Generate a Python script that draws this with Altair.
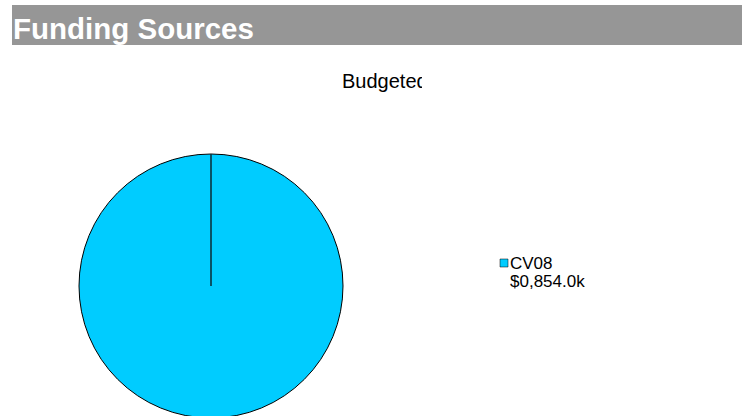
import altair as alt
import pandas as pd

header_title = "Funding Sources"
chart_title = "Budgeted"
sources = ["CV08"]
budget_k = [854.0]
labels = ["$0,854.0k"]
colors = ["#00CCFF"]

df = pd.DataFrame({"source": sources, "budget": budget_k, "label": labels})

W, H = 742, 416
FONT = "Liberation Sans"
CX, CY, R = 211, 286, 132

base = alt.Chart(df)

header_bg = base.mark_rect(color="#969696").encode(
    x=alt.value(12), x2=alt.value(742), y=alt.value(5), y2=alt.value(45)
)
header_txt = alt.Chart(pd.DataFrame({"t": [header_title]})).mark_text(
    font=FONT, fontSize=29.5, fontWeight="bold", color="white", align="left", baseline="alphabetic"
).encode(x=alt.value(13), y=alt.value(39), text="t:N")

title_txt = alt.Chart(pd.DataFrame({"t": [chart_title]})).mark_text(
    font=FONT, fontSize=20, color="black", align="left", baseline="alphabetic"
).encode(x=alt.value(342), y=alt.value(88), text="t:N")
# the reference clips the title at the right edge of its box
title_clip = alt.Chart(pd.DataFrame({"t": [0]})).mark_rect(color="white").encode(
    x=alt.value(422), x2=alt.value(440), y=alt.value(68), y2=alt.value(96)
)

color_scale = alt.Scale(domain=sources, range=colors)

pie = base.mark_arc(stroke="#000000", strokeWidth=1, radius=R).encode(
    theta=alt.Theta("budget:Q", stack=True),
    color=alt.Color("source:N", scale=color_scale, legend=None),
    x=alt.value(CX), y=alt.value(CY),
)
# radial edge of the single slice (start angle at 12 o'clock)
edge = base.mark_rule(color="#0b3440", strokeWidth=1.6).encode(
    x=alt.value(CX), y=alt.value(CY - R), y2=alt.value(CY)
)

leg_sym = base.mark_square(size=64, stroke="#000000", strokeWidth=0.5, opacity=1).encode(
    color=alt.Color("source:N", scale=color_scale, legend=None),
    x=alt.value(504), y=alt.value(263),
)
leg_name = base.mark_text(font=FONT, fontSize=17, align="left", baseline="alphabetic", color="black").encode(
    text="source:N", x=alt.value(510), y=alt.value(269)
)
leg_val = base.mark_text(font=FONT, fontSize=17, align="left", baseline="alphabetic", color="black").encode(
    text="label:N", x=alt.value(510), y=alt.value(287)
)

chart = alt.layer(header_bg, header_txt, title_txt, title_clip, pie, edge, leg_sym, leg_name, leg_val).properties(
    width=W, height=H, padding=0, autosize=alt.AutoSizeParams(type="none"),
    background="white"
).configure_view(stroke=None)

chart.save("out.html", embed_options={"renderer": "svg", "actions": False})
